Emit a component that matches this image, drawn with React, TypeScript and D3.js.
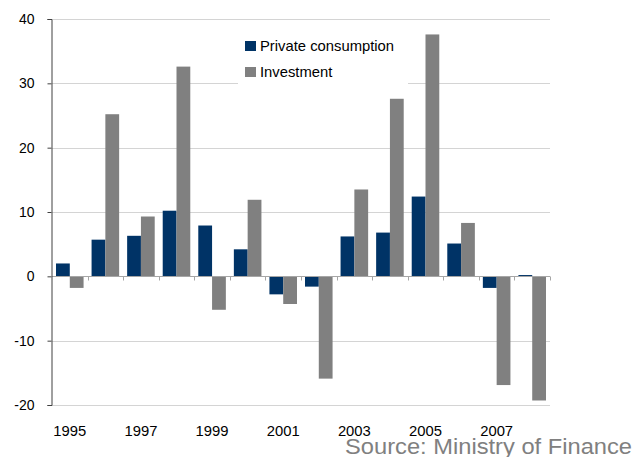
import React, { useEffect, useRef } from "react";
import * as d3 from "d3";

// Data (annual % change)
const years = [
  "1995", "1996", "1997", "1998", "1999", "2000", "2001",
  "2002", "2003", "2004", "2005", "2006", "2007", "2008",
];
const privateConsumption = [2.0, 5.7, 6.3, 10.2, 7.9, 4.2, -2.8, -1.6, 6.2, 6.8, 12.4, 5.1, -1.8, 0.2];
const investment = [-1.8, 25.2, 9.3, 32.6, -5.2, 11.9, -4.3, -15.9, 13.5, 27.6, 37.6, 8.3, -16.9, -19.3];
const seriesNames = ["Private consumption", "Investment"];
const seriesColors = ["#003366", "#808080"];
const yTicks = [-20, -10, 0, 10, 20, 30, 40];

const W = 634;
const H = 457;

const App: React.FC = () => {
  const svgRef = useRef<SVGSVGElement | null>(null);

  useEffect(() => {
    if (!svgRef.current) return;
    const svg = d3.select(svgRef.current);
    svg.selectAll("*").remove();

    const margin = { top: 19, right: 84, bottom: 52, left: 52 };
    const innerW = W - margin.left - margin.right;
    const innerH = H - margin.top - margin.bottom;
    const font = "'Liberation Sans', Arial, sans-serif";

    const g = svg.append("g").attr("transform", `translate(${margin.left},${margin.top})`);

    const x0 = d3.scaleBand<string>().domain(years).range([0, innerW]).padding(0);
    const x1 = d3
      .scaleBand<string>()
      .domain(seriesNames)
      .range([4, x0.bandwidth() - 4])
      .padding(0);
    const y = d3.scaleLinear().domain([-20, 40]).range([innerH, 0]);

    // gridlines
    g.append("g")
      .selectAll("line")
      .data(yTicks)
      .enter()
      .append("line")
      .attr("x1", 0)
      .attr("x2", innerW)
      .attr("y1", (d) => Math.round(y(d)) + 0.5)
      .attr("y2", (d) => Math.round(y(d)) + 0.5)
      .attr("stroke", "#d4d4d4")
      .attr("stroke-width", 1);

    // bars
    const rows = years.map((yr, i) => ({
      year: yr,
      values: [privateConsumption[i], investment[i]],
    }));

    const groups = g
      .append("g")
      .selectAll("g")
      .data(rows)
      .enter()
      .append("g")
      .attr("transform", (d) => `translate(${x0(d.year)},0)`);

    groups
      .selectAll("rect")
      .data((d) => d.values.map((v, k) => ({ v, k })))
      .enter()
      .append("rect")
      .attr("x", (d) => x1(seriesNames[d.k]) as number)
      .attr("width", x1.bandwidth())
      .attr("y", (d) => y(Math.max(0, d.v)))
      .attr("height", (d) => Math.abs(y(d.v) - y(0)))
      .attr("fill", (d) => seriesColors[d.k]);

    // x axis at zero
    const xAxis = g.append("g").attr("transform", `translate(0,${Math.round(y(0)) + 0.5})`);
    xAxis
      .append("line")
      .attr("x1", 0)
      .attr("x2", innerW)
      .attr("stroke", "#a6a6a6")
      .attr("stroke-width", 1);
    xAxis
      .selectAll(".xtick")
      .data(d3.range(1, years.length + 1))
      .enter()
      .append("line")
      .attr("class", "xtick")
      .attr("x1", (i) => Math.round(i * x0.step()) + 0.5)
      .attr("x2", (i) => Math.round(i * x0.step()) + 0.5)
      .attr("y1", 0)
      .attr("y2", 4)
      .attr("stroke", "#a6a6a6");

    // y axis
    g.append("g")
      .attr("transform", "translate(-0.5,0)")
      .call(
        d3
          .axisLeft(y)
          .tickValues(yTicks)
          .tickSize(4)
          .tickPadding(13)
          .tickFormat((d) => `${d}`)
      )
      .call((ax) => ax.selectAll("path,line").attr("stroke", "#404040"))
      .call((ax) =>
        ax
          .selectAll("text")
          .attr("font-family", font)
          .attr("font-size", 14)
          .attr("fill", "#000")
      );

    // year labels, every other year
    g.append("g")
      .selectAll("text")
      .data(years.filter((_, i) => i % 2 === 0))
      .enter()
      .append("text")
      .attr("x", (d) => (x0(d) as number) + x0.bandwidth() / 2)
      .attr("y", innerH + 31)
      .attr("text-anchor", "middle")
      .attr("font-family", font)
      .attr("font-size", 14.8)
      .attr("fill", "#000")
      .text((d) => d);

    // legend
    const legend = svg.append("g").attr("transform", "translate(238,29)");
    legend.append("rect").attr("width", 170).attr("height", 60).attr("fill", "#fff");
    seriesNames.forEach((name, k) => {
      const row = legend.append("g").attr("transform", `translate(7,${12 + k * 26})`);
      row.append("rect").attr("width", 11).attr("height", 10).attr("fill", seriesColors[k]);
      row
        .append("text")
        .attr("x", 15)
        .attr("y", 9.5)
        .attr("font-family", font)
        .attr("font-size", 14.8)
        .attr("fill", "#000")
        .text(name);
    });

    // source note
    svg
      .append("text")
      .attr("x", 345)
      .attr("y", 454)
      .attr("font-family", font)
      .attr("font-size", 22.5)
      .attr("textLength", 287)
      .attr("lengthAdjust", "spacingAndGlyphs")
      .attr("fill", "#808080")
      .text("Source: Ministry of Finance");
  }, []);

  return (
    <div style={{ position: "absolute", left: 0, top: 0 }}>
      <svg ref={svgRef} width={W} height={H} style={{ display: "block", background: "#fff" }} />
    </div>
  );
};

export default App;
